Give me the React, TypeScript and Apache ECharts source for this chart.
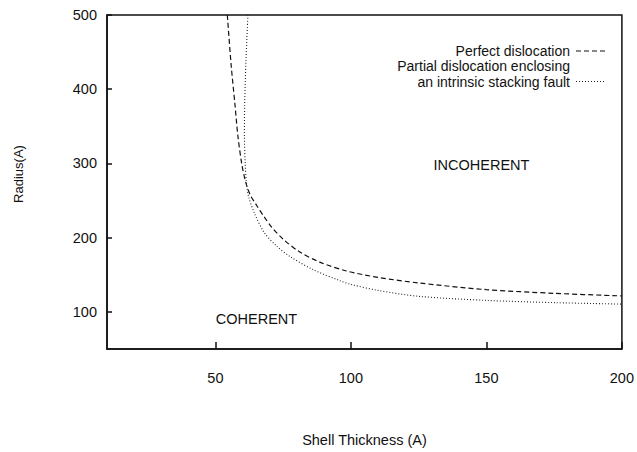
import React, { useEffect, useRef } from "react";
import * as echarts from "echarts";

const xTicks = [50, 100, 150, 200];
const yTicks = [100, 200, 300, 400, 500];

const perfectDislocation: [number, number][] = [
  [54.4, 500], [55.8, 433], [57.2, 380], [58.3, 337], [59.7, 300], [61.1, 276],
  [62.8, 258], [65.3, 243], [68, 228], [70.8, 214], [75, 198], [81, 181], [88.5, 167],
  [98.5, 155], [110, 146.5], [125, 139], [150, 130], [175, 125], [200, 121.5],
];

const partialDislocation: [number, number][] = [
  [62, 500], [61.3, 440], [60.8, 380], [60.7, 337], [61, 300], [61.4, 276],
  [62.2, 256], [64.4, 233], [68, 207], [72.5, 189], [77.4, 175], [86, 157],
  [96, 142], [100, 137], [110, 129], [125, 121], [150, 115.5], [175, 112.5], [200, 110.5],
];

const FONT = "Liberation Sans, Arial, Helvetica, sans-serif";

export default function App() {
  const ref = useRef<HTMLDivElement>(null);
  useEffect(() => {
    if (!ref.current) return;
    const chart = echarts.init(ref.current, null, { renderer: "svg" });
    const axisCommon = {
      type: "value" as const,
      splitLine: { show: false },
      axisLine: { show: true, lineStyle: { color: "#111", width: 1.5 } },
    };
    const legendText = (text: string, y: number) => ({
      type: "text", x: 570, y,
      style: { text, font: `14px ${FONT}`, lineHeight: 14, fill: "#111", align: "right", verticalAlign: "middle" },
    });
    chart.setOption({
      animation: false,
      backgroundColor: "#fff",
      grid: {
        left: 107, right: 14, top: 15, bottom: 96,
        show: true, borderColor: "#111", borderWidth: 1.5,
      },
      xAxis: {
        ...axisCommon,
        min: 10, max: 200,
        axisTick: { show: true, inside: true, length: 7, customValues: xTicks, lineStyle: { color: "#111", width: 1.5 } },
        axisLabel: { customValues: xTicks, margin: 21, fontFamily: FONT, fontSize: 14.5, color: "#111" },
        name: "Shell Thickness (A)",
        nameLocation: "middle",
        nameGap: 83,
        nameTextStyle: { fontFamily: FONT, fontSize: 14.5, color: "#111" },
      },
      yAxis: {
        ...axisCommon,
        min: 50, max: 500,
        axisTick: { show: true, inside: true, length: 5, customValues: yTicks, lineStyle: { color: "#111", width: 1.5 } },
        axisLabel: { customValues: yTicks, margin: 10, fontFamily: FONT, fontSize: 14.5, color: "#111" },
      },
      series: [
        {
          name: "Perfect dislocation",
          type: "line",
          data: perfectDislocation,
          showSymbol: false,
          smooth: 0.3,
          clip: true,
          lineStyle: { color: "#111", width: 1.2, type: [5, 3] },
        },
        {
          name: "Partial dislocation enclosing an intrinsic stacking fault",
          type: "line",
          data: partialDislocation,
          showSymbol: false,
          smooth: 0.3,
          clip: true,
          lineStyle: { color: "#222", width: 1.1, type: [1, 2] },
        },
      ],
      graphic: [
        {
          type: "text", x: 18, y: 174, rotation: Math.PI / 2,
          style: { text: "Radius(A)", font: `13px ${FONT}`, fill: "#111", align: "center", verticalAlign: "middle" },
        },
        {
          type: "text", x: 481.5, y: 165,
          style: { text: "INCOHERENT", font: `14.5px ${FONT}`, fill: "#111", align: "center", verticalAlign: "middle" },
        },
        {
          type: "text", x: 256.5, y: 319,
          style: { text: "COHERENT", font: `14.5px ${FONT}`, fill: "#111", align: "center", verticalAlign: "middle" },
        },
        legendText("Perfect dislocation", 51),
        {
          type: "line", shape: { x1: 576, y1: 51, x2: 607, y2: 51 },
          style: { stroke: "#111", lineWidth: 1.2, lineDash: [5, 3] },
        },
        legendText("Partial dislocation enclosing", 66),
        legendText("an intrinsic stacking fault", 81.5),
        {
          type: "line", shape: { x1: 576, y1: 81.5, x2: 606, y2: 81.5 },
          style: { stroke: "#222", lineWidth: 1.1, lineDash: [1, 2] },
        },
      ],
    });
    return () => chart.dispose();
  }, []);
  return (
    <div
      ref={ref}
      style={{ position: "fixed", left: 0, top: 0, width: 637, height: 452, background: "#fff" }}
    />
  );
}
